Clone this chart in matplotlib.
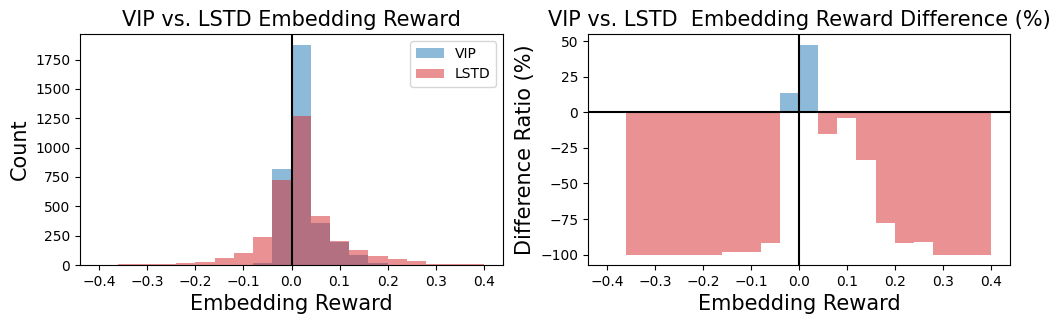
import numpy as np
import matplotlib
matplotlib.use('Agg')
import matplotlib.pyplot as plt

# bin edges of the reward histograms
bin_edges = np.round(np.arange(-0.4, 0.4001, 0.04), 2)

# counts per bin
vip_counts = [0, 0, 0, 0, 0, 0, 1, 2, 19, 821, 1874, 354, 199, 85, 17, 4, 3, 0, 0, 0]
lstd_counts = [0, 8, 8, 7, 20, 28, 60, 105, 238, 724, 1268, 417, 207, 128, 76, 48, 33, 8, 8, 8]

xticks = [-0.4, -0.3, -0.2, -0.1, 0.0, 0.1, 0.2, 0.3, 0.4]

centers = (bin_edges[:-1] + bin_edges[1:]) / 2
vip = np.array(vip_counts, dtype=float)
lstd = np.array(lstd_counts, dtype=float)

# difference ratio, VIP relative to LSTD
with np.errstate(divide='ignore', invalid='ignore'):
    diff = (vip - lstd) / lstd * 100
keep = ~np.isnan(diff)

fig = plt.figure(figsize=(10.6, 3.24), dpi=100)
ax1 = fig.add_axes([0.0755, 0.182, 0.399, 0.713])
ax2 = fig.add_axes([0.5547, 0.182, 0.398, 0.713])

ax1.hist(centers, bins=bin_edges, weights=vip, alpha=0.5, color='tab:blue', label='VIP')
ax1.hist(centers, bins=bin_edges, weights=lstd, alpha=0.5, color='tab:red', label='LSTD')
ax1.axvline(0, color='k')
ax1.set_xlim(-0.44, 0.44)
ax1.set_xticks(xticks)
ax1.set_title('VIP vs. LSTD Embedding Reward', fontsize=15)
ax1.set_xlabel('Embedding Reward', fontsize=15)
ax1.set_ylabel('Count', fontsize=15)
ax1.legend(loc='upper right')

colors = ['tab:blue' if d > 0 else 'tab:red' for d in diff[keep]]
ax2.bar(bin_edges[:-1][keep], diff[keep], width=0.04, align='edge', color=colors, alpha=0.5)
ax2.axhline(0, color='k')
ax2.axvline(0, color='k')
ax2.set_xlim(-0.44, 0.44)
ax2.set_xticks(xticks)
ax2.set_title('VIP vs. LSTD  Embedding Reward Difference (%)', fontsize=15)
ax2.set_xlabel('Embedding Reward', fontsize=15)
ax2.set_ylabel('Difference Ratio (%)', fontsize=15)

fig.savefig('out.png', dpi=100)
